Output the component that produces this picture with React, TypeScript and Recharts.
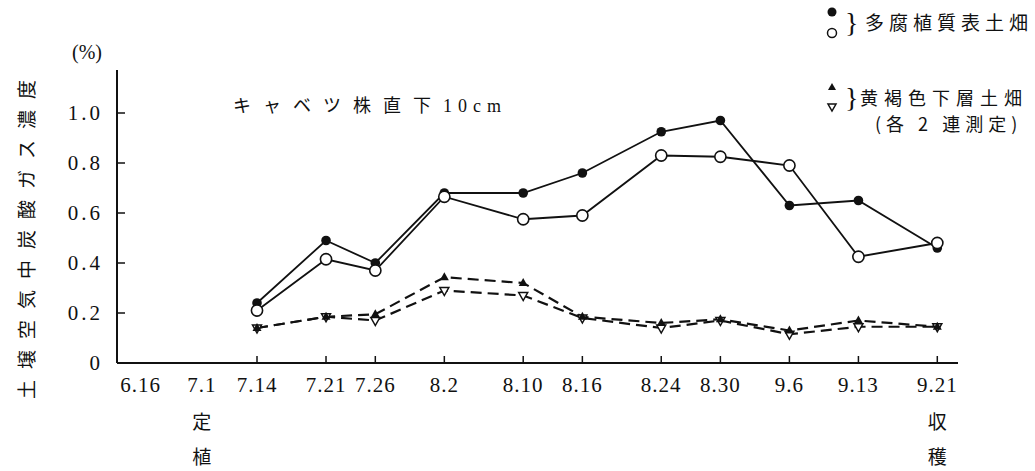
import { LineChart, Line, XAxis, YAxis } from 'recharts'

const INK = '#111'
const SERIF = "'Liberation Serif', 'Noto Sans CJK JP', serif"
const CJK = "'Noto Sans CJK JP', sans-serif"

// measurement dates and days counted from 6.16
const dates = ['7.14', '7.21', '7.26', '8.2', '8.10', '8.16', '8.24', '8.30', '9.6', '9.13', '9.21']
const days = [28, 35, 40, 47, 55, 61, 69, 75, 82, 89, 97]

// 多腐植質表土畑 (● / ○)
const humicA = [0.24, 0.49, 0.4, 0.68, 0.68, 0.76, 0.925, 0.97, 0.63, 0.65, 0.46]
const humicB = [0.21, 0.415, 0.37, 0.665, 0.575, 0.59, 0.83, 0.825, 0.79, 0.425, 0.48]
// 黄褐色下層土畑 (▲ / ▽)
const subsoilA = [0.14, 0.185, 0.195, 0.343, 0.32, 0.185, 0.16, 0.175, 0.13, 0.17, 0.145]
const subsoilB = [0.14, 0.185, 0.17, 0.29, 0.27, 0.18, 0.14, 0.17, 0.115, 0.145, 0.145]

// axis labels; the axis is broken before 7.14, so 6.16 and 7.1 sit on a squeezed stretch
const tickLabels = ['6.16', '7.1', ...dates]
const tickDays = [16.2, 22.4, ...days]
const tickNotes: Record<string, string[]> = { '7.1': ['定', '植'], '9.21': ['収', '穫'] }
const yTicks = [0, 0.2, 0.4, 0.6, 0.8, 1.0]

const data = days.map((d, i) => ({
  day: d,
  humicA: humicA[i],
  humicB: humicB[i],
  subsoilA: subsoilA[i],
  subsoilB: subsoilB[i],
}))

const filledDot = (p: any) => <circle key={'a' + p.index} cx={p.cx} cy={p.cy} r={4.8} fill={INK} />
const openDot = (p: any) => (
  <circle key={'b' + p.index} cx={p.cx} cy={p.cy} r={5.6} fill="#fff" stroke={INK} strokeWidth={1.6} />
)
const upDot = (p: any) => (
  <path key={'c' + p.index} d={`M${p.cx},${p.cy - 5} L${p.cx + 4.5},${p.cy + 3} L${p.cx - 4.5},${p.cy + 3} Z`} fill={INK} />
)
const downDot = (p: any) => (
  <path
    key={'d' + p.index}
    d={`M${p.cx - 4.5},${p.cy - 3} L${p.cx + 4.5},${p.cy - 3} L${p.cx},${p.cy + 5} Z`}
    fill="#fff"
    stroke={INK}
    strokeWidth={1.5}
  />
)

function DateTick({ x, y, payload }: any) {
  const i = tickDays.indexOf(payload.value)
  const label = tickLabels[i]
  const notes = tickNotes[label]
  return (
    <g>
      {i >= 2 && <line x1={x} y1={y} x2={x} y2={y - 7} stroke={INK} strokeWidth={1.5} />}
      <text x={x} y={y + 29} textAnchor="middle" fontFamily={SERIF} fontSize={21} letterSpacing={1} fill={INK}>
        {label}
      </text>
      {notes &&
        notes.map((ch, k) => (
          <text key={k} x={x} y={y + 66 + k * 35} textAnchor="middle" fontFamily={CJK} fontSize={19} fill={INK}>
            {ch}
          </text>
        ))}
    </g>
  )
}

function ValueTick({ x, y, payload }: any) {
  const v = payload.value as number
  return (
    <g>
      {v > 0 && <line x1={x} y1={y} x2={x + 8} y2={y} stroke={INK} strokeWidth={1.5} />}
      <text x={x - 14} y={y + 7} textAnchor="end" fontFamily={SERIF} fontSize={21} letterSpacing={3} fill={INK}>
        {v === 0 ? '0' : v.toFixed(1)}
      </text>
    </g>
  )
}

export default function App() {
  return (
    <div style={{ position: 'absolute', left: 0, top: 0, width: 1035, height: 471, background: '#fff' }}>
      <LineChart width={1035} height={471} data={data} margin={{ top: 70, right: 77, bottom: 0, left: 0 }}>
        <XAxis
          type="number"
          dataKey="day"
          domain={[13.8, 99.1]}
          ticks={tickDays}
          interval={0}
          allowDataOverflow
          height={108}
          tickLine={false}
          tickSize={0}
          tickMargin={0}
          axisLine={{ stroke: INK, strokeWidth: 2 }}
          tick={<DateTick />}
        />
        <YAxis
          type="number"
          domain={[0, 1.172]}
          ticks={yTicks}
          interval={0}
          allowDataOverflow
          width={117}
          tickLine={false}
          tickSize={0}
          tickMargin={0}
          axisLine={{ stroke: INK, strokeWidth: 2 }}
          tick={<ValueTick />}
        />
        <Line dataKey="subsoilB" type="linear" stroke={INK} strokeWidth={2.2} strokeDasharray="11 6" dot={downDot} isAnimationActive={false} />
        <Line dataKey="subsoilA" type="linear" stroke={INK} strokeWidth={2.2} strokeDasharray="11 6" dot={upDot} isAnimationActive={false} />
        <Line dataKey="humicA" type="linear" stroke={INK} strokeWidth={1.8} dot={filledDot} isAnimationActive={false} />
        <Line dataKey="humicB" type="linear" stroke={INK} strokeWidth={1.8} dot={openDot} isAnimationActive={false} />

        {/* axis title and unit */}
        <text
          x={25}
          y={234}
          transform="rotate(-90 25 234)"
          textAnchor="middle"
          dominantBaseline="central"
          fontFamily={CJK}
          fontSize={19}
          letterSpacing={11}
          fill={INK}
        >
          土壌空気中炭酸ガス濃度
        </text>
        <text x={87} y={59} textAnchor="middle" fontFamily={SERIF} fontSize={20} fill={INK}>
          (%)
        </text>

        {/* annotation */}
        <text x={233} y={112} fontFamily={SERIF} fontSize={18} fill={INK}>
          <tspan letterSpacing={12}>キャベツ株直下</tspan>
          <tspan letterSpacing={6}>10cm</tspan>
        </text>

        {/* legend */}
        <circle cx={832} cy={12} r={4.5} fill={INK} />
        <circle cx={832} cy={33} r={4.5} fill="#fff" stroke={INK} strokeWidth={1.5} />
        <text x={845} y={32} fontFamily={SERIF} fontSize={28} fill={INK}>{'}'}</text>
        <text x={865} y={30} fontFamily={CJK} fontSize={19} letterSpacing={5} fill={INK}>多腐植質表土畑</text>

        <path d="M832,83 L836,90 L828,90 Z" fill={INK} />
        <path d="M828,104 L836,104 L832,111 Z" fill="#fff" stroke={INK} strokeWidth={1.5} />
        <text x={845} y={107} fontFamily={SERIF} fontSize={28} fill={INK}>{'}'}</text>
        <text x={860} y={105} fontFamily={CJK} fontSize={18} letterSpacing={6} fill={INK}>黄褐色下層土畑</text>
        <text x={875} y={131} fontFamily={CJK} fontSize={18} letterSpacing={5} fill={INK}>(各 2 連測定)</text>
      </LineChart>
    </div>
  )
}
